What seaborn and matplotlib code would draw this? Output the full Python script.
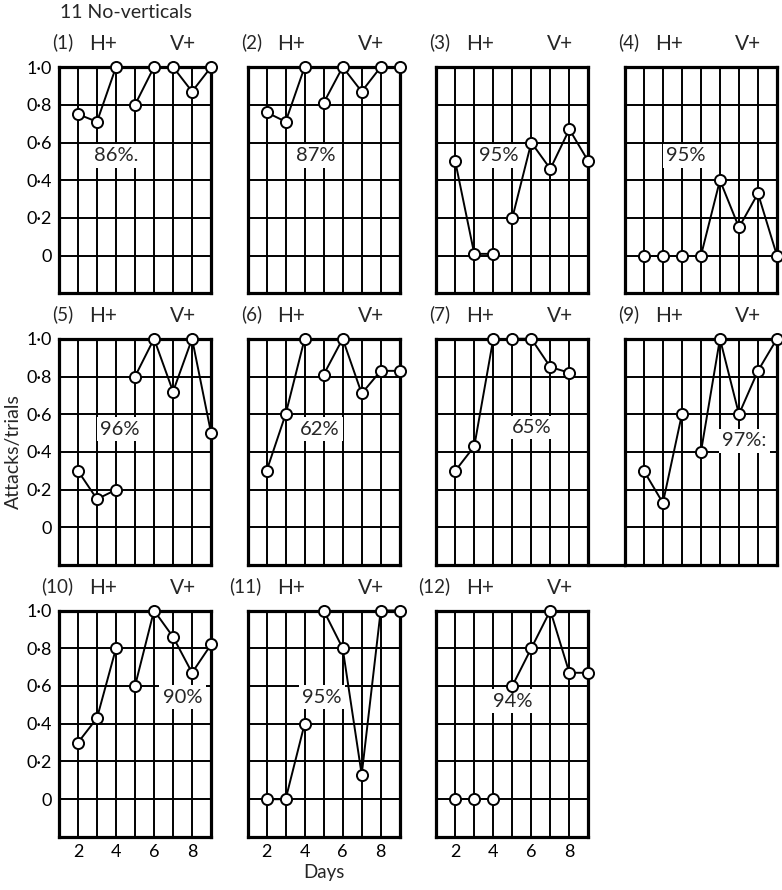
import numpy as np
import pandas as pd
import seaborn as sns
import matplotlib.pyplot as plt

# --- data (attacks/trials per day) ---
days = [2, 3, 4, 5, 6, 7, 8, 9]
phase = ['H', 'H', 'H', 'V', 'V', 'V', 'V', 'V']

panel_names = ['(1)', '(2)', '(3)', '(4)', '(5)', '(6)', '(7)', '(9)', '(10)', '(11)', '(12)']
rate_1 = [0.75, 0.71, 1.0, 0.80, 1.0, 1.0, 0.87, 1.0]
rate_2 = [0.76, 0.71, 1.0, 0.81, 1.0, 0.87, 1.0, 1.0]
rate_3 = [0.50, 0.01, 0.01, 0.20, 0.60, 0.46, 0.67, 0.50]
rate_4 = [0.0, 0.0, 0.0, 0.0, 0.40, 0.15, 0.33, 0.0]
rate_5 = [0.30, 0.15, 0.20, 0.80, 1.0, 0.72, 1.0, 0.50]
rate_6 = [0.30, 0.60, 1.0, 0.81, 1.0, 0.71, 0.83, 0.83]
rate_7 = [0.30, 0.43, 1.0, 1.0, 1.0, 0.85, 0.82, np.nan]
rate_9 = [0.30, 0.13, 0.60, 0.40, 1.0, 0.60, 0.83, 1.0]
rate_10 = [0.30, 0.43, 0.80, 0.60, 1.0, 0.86, 0.67, 0.82]
rate_11 = [0.0, 0.0, 0.40, 1.0, 0.80, 0.13, 1.0, 1.0]
rate_12 = [0.0, 0.0, 0.0, 0.60, 0.80, 1.0, 0.67, 0.67]
all_rates = [rate_1, rate_2, rate_3, rate_4, rate_5, rate_6, rate_7,
             rate_9, rate_10, rate_11, rate_12]
percents = ['86%.', '87%', '95%', '95%', '96%', '62%', '65%', '97%:', '90%', '95%', '94%']

ytick_vals = [-0.2, 0, 0.2, 0.4, 0.6, 0.8, 1.0]
ytick_text = ['', '0', '0·2', '0·4', '0·6', '0·8', '1·0']
xtick_vals = [1, 2, 3, 4, 5, 6, 7, 8, 9]
xtick_text = ['', '2', '', '4', '', '6', '', '8', '']

rows = []
for name, rates in zip(panel_names, all_rates):
    for d, p, r in zip(days, phase, rates):
        rows.append({'panel': name, 'day': d, 'phase': p, 'rate': r})
df = pd.DataFrame(rows).dropna()

# --- styling ---
sns.set_theme(style='white')
plt.rcParams['font.family'] = ['Lato', 'DejaVu Sans']

fig, axes = plt.subplots(3, 4, figsize=(7.82, 8.90), sharex=True, sharey=True)
fig.subplots_adjust(left=0.0754, right=0.9936, top=0.9247, bottom=0.0596,
                    wspace=0.24, hspace=0.2)
axes[2, 3].set_visible(False)
plot_axes = [ax for ax in axes.flat][:11]

# where the percentage labels sit (day, rate)
label_pos = [(4.0, 0.53), (4.6, 0.53), (4.3, 0.53), (4.2, 0.53), (4.2, 0.52),
             (4.8, 0.52), (6.0, 0.53), (7.3, 0.46), (7.5, 0.54), (4.9, 0.54),
             (5.0, 0.52)]

for ax, name, pct, pos in zip(plot_axes, panel_names, percents, label_pos):
    sub = df[df['panel'] == name]
    sns.lineplot(data=sub, x='day', y='rate', units='phase', estimator=None,
                 ax=ax, color='black', lw=1.4, marker='o', markersize=8,
                 markerfacecolor='white', markeredgecolor='black',
                 markeredgewidth=1.4, clip_on=False, zorder=5)
    ax.set_xlim(1, 9)
    ax.set_ylim(-0.2, 1.0)
    ax.set_xticks(xtick_vals)
    ax.set_xticklabels(xtick_text)
    ax.set_yticks(ytick_vals)
    ax.set_yticklabels(ytick_text)
    ax.tick_params(length=0, labelsize=13, colors='black', pad=5)
    ax.grid(True, color='black', lw=1.4)
    ax.set_axisbelow(True)
    for sp in ax.spines.values():
        sp.set_color('black')
        sp.set_linewidth(2.3)
    ax.set_xlabel('')
    ax.set_ylabel('')
    ax.text(1.75, 1.13, name, ha='right', va='center', fontsize=13.5)
    ax.text(3.3, 1.12, 'H+', ha='center', va='center', fontsize=15)
    ax.text(7.5, 1.12, 'V+', ha='center', va='center', fontsize=15)
    ax.text(pos[0], pos[1], pct, ha='center', va='center', fontsize=14.5, zorder=3,
            bbox=dict(facecolor='white', edgecolor='none', pad=2.5))

# bottom rule of panel (7) runs on across the gap left by panel (8)
axes[1, 2].spines['bottom'].set_bounds(1, 10.9)

axes[1, 0].set_ylabel('Attacks/trials', fontsize=14, labelpad=3)
axes[2, 1].set_xlabel('Days', fontsize=13.5, labelpad=3)
fig.text(0.077, 0.986, '11 No-verticals', ha='left', va='center', fontsize=14)

plt.savefig('out.png', dpi=100)
